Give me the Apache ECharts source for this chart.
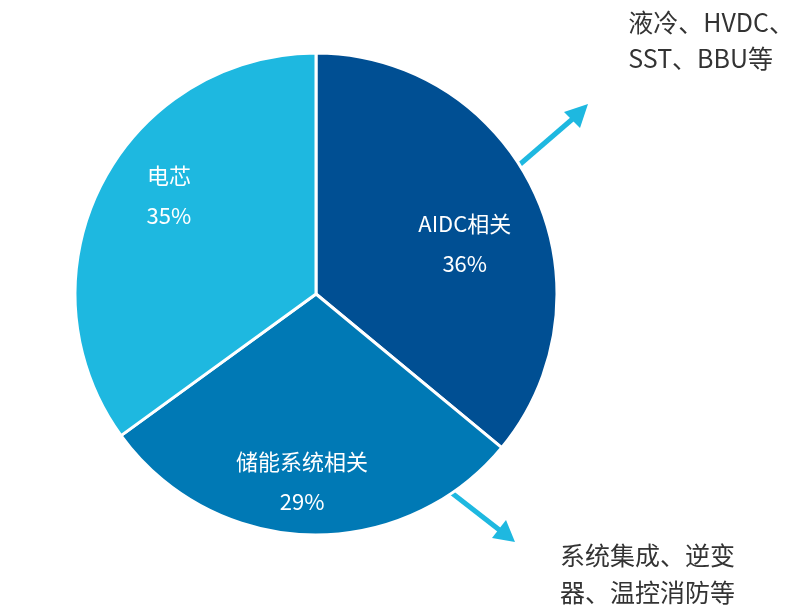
<!DOCTYPE html>
<html>
<head>
<meta charset="utf-8">
<script src="https://cdn.jsdelivr.net/npm/echarts@6/dist/echarts.min.js"></script>
<style>html,body{margin:0;padding:0;background:#fff}#main{width:806px;height:612px}</style>
</head>
<body>
<div id="main"></div>
<script>
let names = ["AIDC相关", "储能系统相关", "电芯"];
let values = [36, 29, 35];
let colors = ["#004f93", "#0079b5", "#1eb8e0"];
let offsets = [[37, 2], [-10, 64], [-37, -42]];

var myChart = echarts.init(document.getElementById("main"));
var font = "'Noto Sans CJK SC', 'Noto Sans', sans-serif";
var option = {
  animation: false,
  series: [
    {
      type: "pie",
      center: [316, 294],
      radius: [0, 241],
      startAngle: 90,
      clockwise: true,
      itemStyle: { borderColor: "#fff", borderWidth: 3 },
      label: {
        show: true,
        position: "inside",
        color: "#fff",
        fontSize: 22,
        lineHeight: 40,
        fontFamily: font,
        formatter: "{b}\n{c}%",
      },
      labelLine: { show: false },
      data: names.map(function (n, i) {
        return {
          name: n,
          value: values[i],
          itemStyle: { color: colors[i] },
          label: { offset: offsets[i] },
        };
      }),
    },
  ],
  graphic: [
    {
      type: "line",
      shape: { x1: 482, y1: 197, x2: 576, y2: 116 },
      style: { stroke: "#1eb8e0", lineWidth: 5 },
    },
    {
      type: "polygon",
      shape: { points: [[588, 104], [564, 112], [580, 128]] },
      style: { fill: "#1eb8e0" },
    },
    {
      type: "line",
      shape: { x1: 412, y1: 462, x2: 502, y2: 532 },
      style: { stroke: "#1eb8e0", lineWidth: 5 },
    },
    {
      type: "polygon",
      shape: { points: [[515, 542], [492, 538], [506, 520]] },
      style: { fill: "#1eb8e0" },
    },
    {
      type: "text",
      right: 12,
      top: 4,
      style: {
        text: "液冷、HVDC、\nSST、BBU等",
        fill: "#333",
        fontSize: 25,
        lineHeight: 36,
        align: "right",
        fontFamily: font,
      },
    },
    {
      type: "text",
      left: 560,
      top: 537,
      style: {
        text: "系统集成、逆变\n器、温控消防等",
        fill: "#333",
        fontSize: 25,
        lineHeight: 37,
        fontFamily: font,
      },
    },
  ],
};
myChart.setOption(option);
</script>
</body>
</html>
